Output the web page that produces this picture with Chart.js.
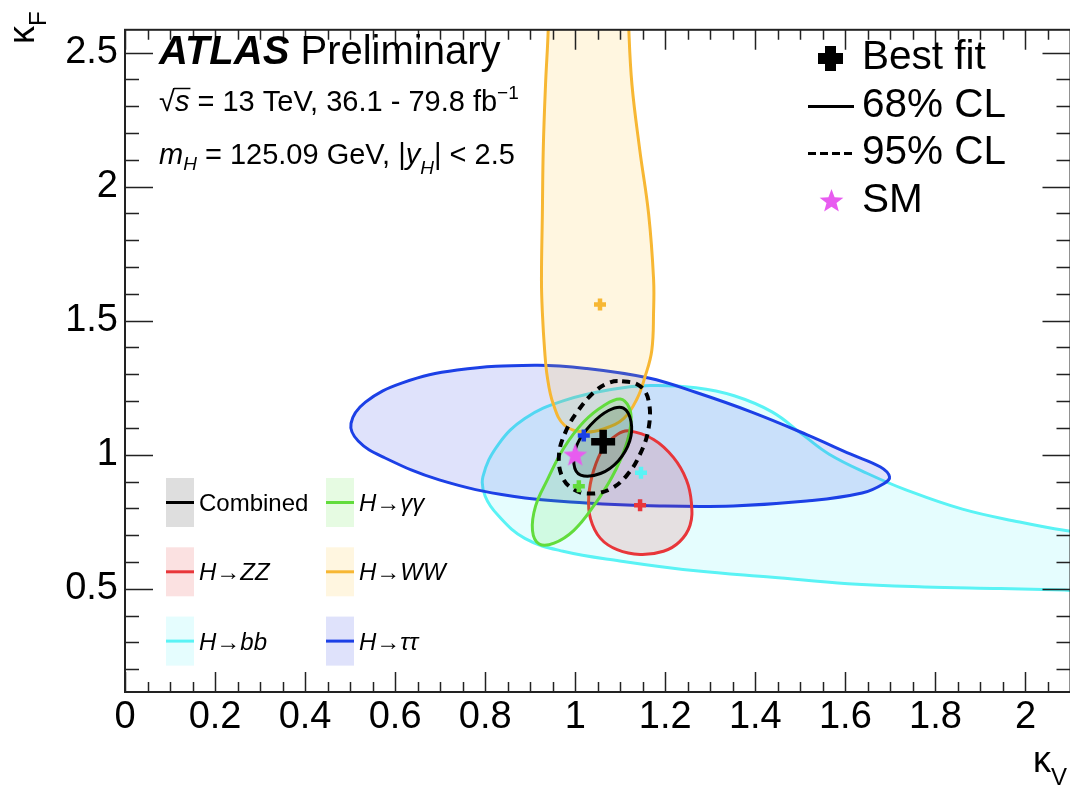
<!DOCTYPE html>
<html>
<head>
<meta charset="utf-8">
<script src="https://cdn.jsdelivr.net/npm/chart.js@4.4.0/dist/chart.umd.min.js"></script>
<style>
  html, body { margin: 0; padding: 0; background: #fff; overflow: hidden; }
  #wrap { position: relative; width: 1070px; height: 785px; overflow: hidden; }
</style>
</head>
<body>
<div id="wrap"><canvas id="myChart" width="1090" height="785"></canvas></div>
<script>
// axis ticks
const xTicks = [0, 0.2, 0.4, 0.6, 0.8, 1, 1.2, 1.4, 1.6, 1.8, 2];
const yTicks = [0.5, 1, 1.5, 2, 2.5];

// 68% / 95% contours, [kV, kF]
const comb68 = [[1.107,1.174],[1.124,1.123],[1.121,1.051],[1.096,0.978],[1.056,0.930],[1.012,0.924],
  [0.997,0.966],[1.004,1.038],[1.034,1.111],[1.074,1.165]];
const comb95 = [[1.104,1.274],[1.144,1.256],[1.163,1.201],[1.163,1.099],[1.144,1.002],[1.115,0.924],
  [1.078,0.872],[1.034,0.855],[0.997,0.870],[0.971,0.918],[0.964,1.002],[0.979,1.087],[1.004,1.159],
  [1.041,1.232],[1.074,1.268]];
const zz68 = [[1.119,1.089],[1.174,1.057],[1.218,0.990],[1.247,0.906],[1.258,0.821],[1.255,0.737],
  [1.232,0.676],[1.196,0.640],[1.144,0.628],[1.093,0.646],[1.056,0.688],[1.034,0.761],[1.030,0.845],
  [1.041,0.942],[1.063,1.026],[1.093,1.075]];
const gg68 = [[1.100,1.208],[1.119,1.178],[1.124,1.123],[1.111,1.026],[1.082,0.918],[1.041,0.809],
  [0.997,0.718],[0.953,0.670],[0.920,0.667],[0.905,0.718],[0.912,0.809],[0.938,0.906],[0.975,1.026],
  [1.019,1.123],[1.063,1.183]];
const ww68 = [[0.942,2.8],[0.940,2.587],[0.934,2.38],[0.929,2.14],[0.927,1.90],[0.925,1.65],[0.927,1.53],
  [0.932,1.39],[0.938,1.29],[0.951,1.19],[0.976,1.11],[1.020,1.085],[1.064,1.097],[1.108,1.136],
  [1.137,1.208],[1.155,1.291],[1.170,1.389],[1.174,1.535],[1.174,1.655],[1.163,1.898],[1.143,2.141],
  [1.126,2.38],[1.119,2.587],[1.116,2.8]];
const bb68 = [[0.795,0.918],[0.829,1.038],[0.888,1.135],[0.973,1.201],[1.083,1.244],[1.167,1.258],
  [1.268,1.250],[1.353,1.220],[1.438,1.159],[1.505,1.075],[1.564,1.002],[1.649,0.930],[1.733,0.870],
  [1.860,0.797],[1.987,0.749],[2.086,0.718],[2.25,0.68],[2.25,0.49],[2.086,0.495],[1.944,0.501],
  [1.775,0.507],[1.606,0.519],[1.438,0.543],[1.268,0.567],[1.099,0.604],[0.973,0.640],[0.888,0.688],
  [0.829,0.773],[0.800,0.845]];
const tt68 = [[0.502,1.117],[0.534,1.196],[0.616,1.268],[0.738,1.316],[0.910,1.334],[1.024,1.322],
  [1.163,1.286],[1.269,1.232],[1.392,1.159],[1.514,1.075],[1.612,1.002],[1.678,0.954],[1.698,0.918],
  [1.686,0.893],[1.637,0.857],[1.514,0.827],[1.351,0.809],[1.188,0.809],[1.024,0.820],[0.861,0.845],
  [0.698,0.906],[0.575,0.990],[0.518,1.051]];

// best fit points
const bestFit = [1.062, 1.048];
const fitGG = [1.008, 0.882];
const fitZZ = [1.144, 0.812];
const fitWW = [1.055, 1.560];
const fitBB = [1.146, 0.933];
const fitTT = [1.019, 1.072];
const smPoint = [1, 1];

// legend texts
const legendLabels = ['Combined', 'H\u2192\u03b3\u03b3', 'H\u2192ZZ', 'H\u2192WW', 'H\u2192bb', 'H\u2192\u03c4\u03c4'];
const legendItalic = [false, true, true, true, true, true];
const topLegend = ['Best fit', '68% CL', '95% CL', 'SM'];

// colours
const cBlack = '#000000';
const cGG = '#62dc3c', fGG = 'rgba(80,230,50,0.14)';
const cZZ = '#e8363a', fZZ = 'rgba(230,40,40,0.14)';
const cWW = '#f7b733', fWW = 'rgba(255,195,50,0.15)';
const cBB = '#5af3f5', fBB = 'rgba(100,245,250,0.17)';
const cTT = '#1c40e6', fTT = 'rgba(40,60,230,0.15)';
const fComb = 'rgba(0,0,0,0.13)';
const cSM = '#e85cf0';
const legendLine = [cBlack, cGG, cZZ, cWW, cBB, cTT];
const legendFill = [fComb, fGG, fZZ, fWW, fBB, fTT];

const FONT = '"Liberation Sans", Arial, Helvetica, sans-serif';
const f = (size, style) => `${style || ''} ${size}px ${FONT}`;
const pts = (arr) => arr.map(p => ({ x: p[0], y: p[1] }));

// filled star used for the SM point
function starCanvas(size, color) {
  const c = document.createElement('canvas');
  c.width = c.height = size;
  const g = c.getContext('2d');
  g.fillStyle = color;
  g.beginPath();
  for (let i = 0; i < 10; i++) {
    const r = i % 2 ? size * 0.21 : size * 0.5;
    const a = -Math.PI / 2 + i * Math.PI / 5;
    g.lineTo(size / 2 + r * Math.cos(a), size * 0.54 + r * Math.sin(a));
  }
  g.closePath();
  g.fill();
  return c;
}
const star = starCanvas(25, cSM);

function contour(data, line, fill, extra) {
  return Object.assign({
    data: pts(data),
    showLine: true,
    closed: true,
    borderColor: line,
    backgroundColor: fill || 'rgba(0,0,0,0)',
    fill: fill ? 'shape' : false,
    borderWidth: 3,
    tension: 0.4,
    capBezierPoints: false,
    pointRadius: 0,
  }, extra || {});
}
function plus(p, color, r, w) {
  return { data: pts([p]), pointStyle: 'cross', pointRadius: r, borderColor: color, borderWidth: w, showLine: false };
}

const datasets = [
  { data: pts([smPoint]), pointStyle: star, showLine: false },
  plus(bestFit, cBlack, 12, 7.5),
  plus(fitTT, cTT, 6, 4.5),
  plus(fitGG, cGG, 6, 4.5),
  plus(fitBB, cBB, 6, 4.5),
  plus(fitZZ, cZZ, 6, 4.5),
  plus(fitWW, cWW, 6, 4.5),
  contour(comb68, cBlack, fComb, { borderWidth: 3 }),
  contour(comb95, cBlack, null, { borderWidth: 4, borderDash: [8, 6] }),
  contour(gg68, cGG, fGG),
  contour(zz68, cZZ, fZZ),
  contour(ww68, cWW, fWW),
  contour(tt68, cTT, fTT),
  contour(bb68, cBB, fBB),
];

// make the contour lines closed smooth loops
const closeLoops = {
  id: 'closeLoops',
  afterDatasetUpdate(chart, args) {
    const ds = chart.data.datasets[args.index];
    const line = args.meta.dataset;
    if (ds.closed && line) {
      line._loop = true;
      line._fullLoop = true;
    }
  },
};

// frame with inward ticks on all four sides
const frameTicks = {
  id: 'frameTicks',
  afterDatasetsDraw(chart) {
    const { ctx, chartArea: a, scales: { x, y } } = chart;
    ctx.save();
    ctx.strokeStyle = '#222';
    ctx.lineWidth = 1.5;
    ctx.beginPath();
    for (let i = 0; i <= 42; i++) {
      const px = Math.round(x.getPixelForValue(i * 0.05)) + 0.5;
      const len = i % 4 === 0 ? 20 : 10;
      ctx.moveTo(px, a.bottom); ctx.lineTo(px, a.bottom - len);
      ctx.moveTo(px, a.top); ctx.lineTo(px, a.top + len);
    }
    for (let i = 2; i <= 25; i++) {
      const py = Math.round(y.getPixelForValue(i * 0.1)) + 0.5;
      const len = i % 5 === 0 ? 28 : 14;
      ctx.moveTo(a.left, py); ctx.lineTo(a.left + len, py);
      ctx.moveTo(a.right, py); ctx.lineTo(a.right - len, py);
    }
    ctx.stroke();
    ctx.lineWidth = 2;
    ctx.strokeRect(a.left, a.top, a.right - a.left, a.bottom - a.top);
    ctx.restore();
  },
};

function drawRuns(ctx, x, y, parts) {
  for (const p of parts) {
    ctx.font = p.font;
    ctx.fillText(p.t, x, y + (p.dy || 0));
    x += ctx.measureText(p.t).width;
  }
  return x;
}

// texts, legends and axis titles
const annotations = {
  id: 'annotations',
  afterDraw(chart) {
    const ctx = chart.ctx;
    ctx.save();
    ctx.fillStyle = '#000';
    ctx.textAlign = 'left';
    ctx.textBaseline = 'alphabetic';

    drawRuns(ctx, 159, 64, [{ t: 'ATLAS', font: f(40, 'italic bold') }, { t: ' Preliminary', font: f(40) }]);

    // sqrt(s) line
    ctx.font = f(29);
    let x = 159;
    ctx.fillText('\u221a', x, 111);
    x += ctx.measureText('\u221a').width;
    const sx = x;
    ctx.font = f(29, 'italic');
    ctx.fillText('s', x, 111);
    x += ctx.measureText('s').width;
    ctx.strokeStyle = '#000';
    ctx.lineWidth = 1.5;
    ctx.beginPath(); ctx.moveTo(sx - 1, 88.5); ctx.lineTo(x + 1, 88.5); ctx.stroke();
    x = drawRuns(ctx, x, 111, [{ t: ' = 13 TeV, 36.1 - 79.8 fb', font: f(29) }]);
    drawRuns(ctx, x, 111, [{ t: '\u22121', font: f(19), dy: -12 }]);

    drawRuns(ctx, 159, 164, [
      { t: 'm', font: f(29, 'italic') },
      { t: 'H', font: f(19, 'italic'), dy: 6 },
      { t: ' = 125.09 GeV, |', font: f(29) },
      { t: 'y', font: f(29, 'italic') },
      { t: 'H', font: f(19, 'italic'), dy: 10 },
      { t: '| < 2.5', font: f(29) },
    ]);

    // top right legend
    const rowY = [69, 117, 164, 212];
    ctx.font = f(40.5);
    topLegend.forEach((t, i) => ctx.fillText(t, 862, rowY[i]));
    ctx.fillRect(825, 46, 11, 25);
    ctx.fillRect(818, 53, 25, 11);
    ctx.lineWidth = 3;
    ctx.beginPath(); ctx.moveTo(808, 106.5); ctx.lineTo(854, 106.5); ctx.stroke();
    ctx.setLineDash([8, 4]);
    ctx.beginPath(); ctx.moveTo(808, 153.5); ctx.lineTo(856, 153.5); ctx.stroke();
    ctx.setLineDash([]);
    ctx.drawImage(star, 819, 188);

    // bottom left legend
    legendLabels.forEach((t, i) => {
      const bx = i % 2 ? 326 : 166;
      const by = 478 + Math.floor(i / 2) * 69.3;
      ctx.fillStyle = legendFill[i];
      ctx.fillRect(bx, by, 28, 49);
      ctx.strokeStyle = legendLine[i];
      ctx.lineWidth = 3;
      ctx.beginPath(); ctx.moveTo(bx, by + 24.5); ctx.lineTo(bx + 28, by + 24.5); ctx.stroke();
      ctx.fillStyle = '#000';
      ctx.font = f(24, legendItalic[i] ? 'italic' : '');
      ctx.fillText(t, bx + 33, by + 33);
    });

    // axis titles
    drawRuns(ctx, 1033, 772, [{ t: '\u03ba', font: f(36) }, { t: 'V', font: f(24), dy: 13 }]);
    ctx.translate(34, 44);
    ctx.rotate(-Math.PI / 2);
    drawRuns(ctx, 0, 0, [{ t: '\u03ba', font: f(36) }, { t: 'F', font: f(24), dy: 12 }]);
    ctx.restore();
  },
};

const tickFmt = (v) => String(Math.round(v * 10) / 10);

const config = {
  type: 'scatter',
  data: { datasets },
  options: {
    responsive: false,
    animation: false,
    events: [],
    layout: { padding: { left: 0, top: 10, right: 14, bottom: 0 } },
    plugins: { legend: { display: false }, tooltip: { enabled: false } },
    scales: {
      x: {
        type: 'linear',
        min: 0,
        max: 2.1,
        afterBuildTicks: (s) => { s.ticks = xTicks.map(v => ({ value: v })); },
        afterFit: (s) => { s.height = 93; },
        grid: { display: false, drawTicks: false },
        border: { display: false },
        ticks: { autoSkip: false, maxRotation: 0, padding: 3, color: '#000', font: { family: FONT, size: 38 }, callback: tickFmt },
      },
      y: {
        type: 'linear',
        min: 0.115,
        max: 2.585,
        afterBuildTicks: (s) => { s.ticks = yTicks.map(v => ({ value: v })); },
        afterFit: (s) => { s.width = 125; },
        grid: { display: false, drawTicks: false },
        border: { display: false },
        ticks: { padding: 7, color: '#000', font: { family: FONT, size: 38 }, callback: tickFmt },
      },
    },
  },
  plugins: [closeLoops, frameTicks, annotations],
};

const myChart = new Chart(document.getElementById('myChart'), config);
</script>
</body>
</html>
